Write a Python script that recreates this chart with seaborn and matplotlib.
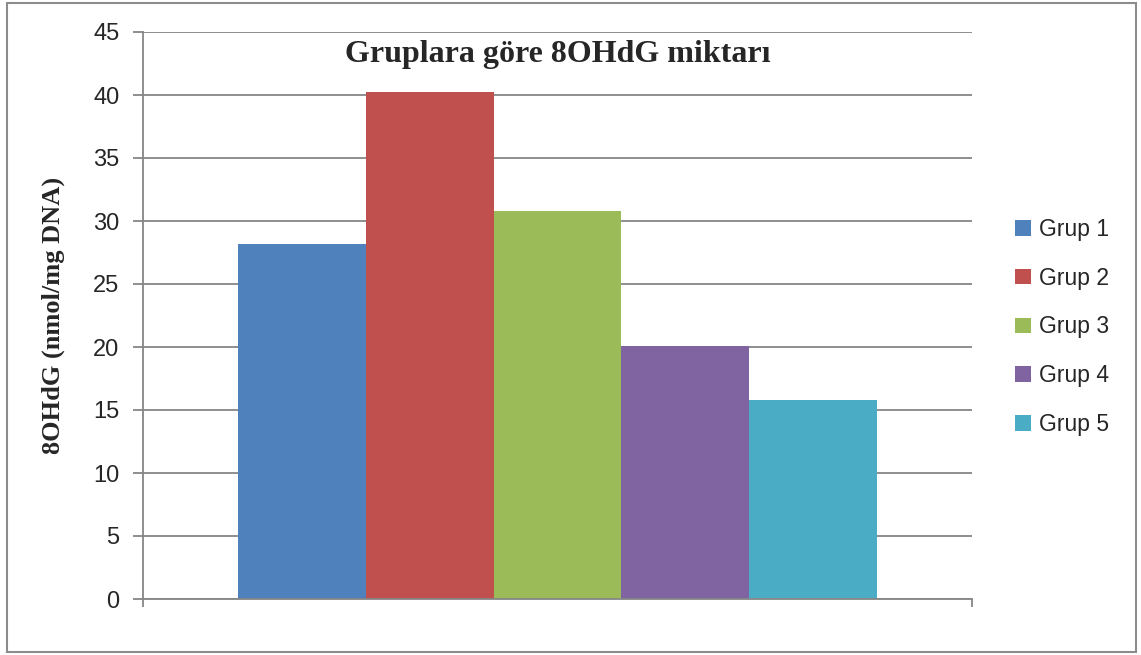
import numpy as np
import seaborn as sns
import matplotlib.pyplot as plt
import pandas as pd
from matplotlib.patches import Rectangle

# valores
grupos = ['Grup 1', 'Grup 2', 'Grup 3', 'Grup 4', 'Grup 5']
valores = [28.2, 40.2, 30.8, 20.1, 15.8]
cores = ['#4F81BD', '#C0504D', '#9BBB59', '#8064A2', '#4BACC6']
y_ticks = [0, 5, 10, 15, 20, 25, 30, 35, 40, 45]

df = pd.DataFrame({'cat': [''] * len(grupos), 'grupo': grupos, 'valor': valores})

sns.set_style('white')
plt.rcParams['font.family'] = ['Liberation Sans', 'DejaVu Sans']

fig = plt.figure(figsize=(11.41, 6.55), dpi=100)
ax = fig.add_axes([143 / 1141, 56 / 655, 829 / 1141, 567 / 655])

sns.barplot(data=df, x='cat', y='valor', hue='grupo', palette=cores,
            width=0.771, gap=0, saturation=1, linewidth=0, ax=ax, legend=True)

ax.set_xlim(-0.5, 0.5)
ax.set_ylim(0, 45)
ax.set_yticks(y_ticks)
ax.set_xticks([-0.5, 0.5])
ax.set_xticklabels(['', ''])
ax.set_xlabel('')
ax.grid(axis='y', color='#868686', linewidth=1.3)
ax.set_axisbelow(True)

for s in ['top', 'right']:
    ax.spines[s].set_visible(False)
for s in ['left', 'bottom']:
    ax.spines[s].set_color('#868686')
    ax.spines[s].set_linewidth(1.3)

ax.tick_params(axis='y', direction='out', length=7, width=1.3, color='#868686',
               labelsize=17, pad=10, left=True)
ax.tick_params(axis='x', direction='out', length=6, width=1.3, color='#868686', bottom=True)

ax.set_ylabel('8OHdG (nmol/mg DNA)', family='Liberation Serif', fontweight='bold',
              fontsize=19, labelpad=20)

ax.text(0.5, 0.947, 'Gruplara göre 8OHdG miktarı', transform=ax.transAxes,
        ha='center', va='baseline', family='Liberation Serif', fontweight='bold', fontsize=23)

# legenda fora do eixo, a direita
handles, labels = ax.get_legend_handles_labels()
ax.legend_.remove()
fig.legend(handles, labels, loc='center left', bbox_to_anchor=(1015 / 1141, (655 - 327) / 655),
           frameon=False, fontsize=16.5, handlelength=0.68, handleheight=0.68,
           handletextpad=0.35, labelspacing=1.13, borderpad=0, borderaxespad=0)

# borda do grafico
fig.patches.append(Rectangle((7 / 1141, 3 / 655), 1129 / 1141, 649 / 655,
                             transform=fig.transFigure, fill=False,
                             edgecolor='#8c8c8c', linewidth=1.5))

plt.savefig('out.png', dpi=100)
plt.close()
